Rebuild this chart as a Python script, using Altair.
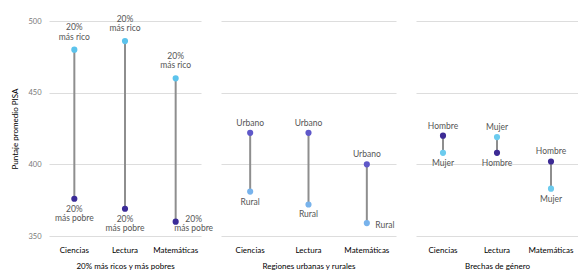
import altair as alt
import pandas as pd

materias = ["Ciencias", "Lectura", "Matemáticas"]

# Panel 1: 20% más ricos y más pobres
ricos = [480, 486, 460]
pobres = [376, 369, 360]
# Panel 2: Regiones urbanas y rurales
urbano = [422, 422, 400]
rural = [381, 372, 359]
# Panel 3: Brechas de género
hombre = [420, 408, 402]
mujer = [408, 419, 383]

titulos = ["20% más ricos y más pobres", "Regiones urbanas y rurales", "Brechas de género"]
etiquetas = [("20%\nmás rico", "20%\nmás pobre"), ("Urbano", "Rural"), ("Hombre", "Mujer")]
# subjects whose lower label sits to the right of the point
derecha = [["Matemáticas"], ["Matemáticas"], []]

colores = [("#5cc3ec", "#3b2b98"), ("#5f58c9", "#78b3ec"), ("#3d2b95", "#6ccbee")]

FONT = "Lato"
TXT = "#555555"
LH = 9.5
H = 215


def panel(i, serie_a, serie_b, width, first):
    lab_a, lab_b = etiquetas[i]
    ca, cb = colores[i]
    nlines = max(lab_a.count("\n"), lab_b.count("\n")) + 1
    rows = []
    rules = []
    for m, a, b in zip(materias, serie_a, serie_b):
        hi, lo = max(a, b), min(a, b)
        rules.append({"materia": m, "hi": hi, "lo": lo})
        for g, v in ((lab_a, a), (lab_b, b)):
            if v == hi:
                lado = "arriba"
            elif m in derecha[i]:
                lado = "derecha"
            else:
                lado = "abajo"
            rows.append({"materia": m, "grupo": g, "valor": v, "etiqueta": g, "lado": lado})
    df = pd.DataFrame(rows)
    dr = pd.DataFrame(rules)

    yscale = alt.Scale(domain=[350, 500], zero=False, nice=False)
    if first:
        yaxis = alt.Axis(values=[350, 400, 450, 500], title="Puntaje promedio PISA",
                         ticks=False, domain=False, labelPadding=8, titlePadding=8,
                         labelFontSize=7.5, titleFontSize=8, titleFontWeight="normal",
                         labelColor="#777777")
    else:
        yaxis = alt.Axis(values=[350, 400, 450, 500], title=None, labels=False,
                         ticks=False, domain=False)
    xenc = alt.X("materia:N", sort=materias, scale=alt.Scale(paddingInner=0, paddingOuter=0),
                 axis=alt.Axis(title=titulos[i], labelAngle=0, ticks=False, domain=False,
                               labelPadding=10, titlePadding=8, labelFontSize=8,
                               titleFontSize=8, titleFontWeight="normal"))

    base_rule = alt.Chart(dr).mark_rule(color="#8e8e8e", strokeWidth=2).encode(
        x=xenc,
        y=alt.Y("lo:Q", scale=yscale, axis=yaxis),
        y2="hi:Q",
    )
    pts = alt.Chart(df).mark_circle(size=38, opacity=1).encode(
        x=alt.X("materia:N", sort=materias),
        y=alt.Y("valor:Q"),
        color=alt.Color("grupo:N", scale=alt.Scale(domain=[lab_a, lab_b], range=[ca, cb]), legend=None),
    )
    tbase = alt.Chart(df).encode(
        x=alt.X("materia:N", sort=materias),
        y=alt.Y("valor:Q"),
        text="etiqueta:N",
    )
    tstyle = dict(fontSize=8.5, font=FONT, color=TXT, lineBreak="\n", lineHeight=LH)
    up_gap = -5 if nlines == 1 else -8
    t_up = tbase.transform_filter(alt.datum.lado == "arriba").mark_text(
        baseline="bottom", dy=up_gap - LH * (nlines - 1), **tstyle)
    t_dn = tbase.transform_filter(alt.datum.lado == "abajo").mark_text(
        baseline="top", dy=6, **tstyle)
    t_rt = tbase.transform_filter(alt.datum.lado == "derecha").mark_text(
        baseline="middle", dx=18, dy=2 - LH * (nlines - 1) / 2, **tstyle)
    return alt.layer(base_rule, pts, t_up, t_dn, t_rt).properties(
        width=width, height=H, view=alt.ViewBackground(stroke="transparent", strokeWidth=0))


chart = alt.hconcat(
    panel(0, ricos, pobres, 152, True),
    panel(1, urbano, rural, 175, False),
    panel(2, hombre, mujer, 162, False),
    spacing=20,
    bounds="flush",
).resolve_scale(color="independent").properties(
    padding={"left": 3, "top": 6, "right": 0, "bottom": 0}
).configure_view(stroke="transparent", strokeWidth=0).configure_axis(
    labelFont=FONT, titleFont=FONT, labelColor=TXT, titleColor="#444444",
    gridColor="#efefef", gridWidth=1,
).configure(font=FONT)

chart.save("out.html", embed_options={"renderer": "svg", "actions": False})
